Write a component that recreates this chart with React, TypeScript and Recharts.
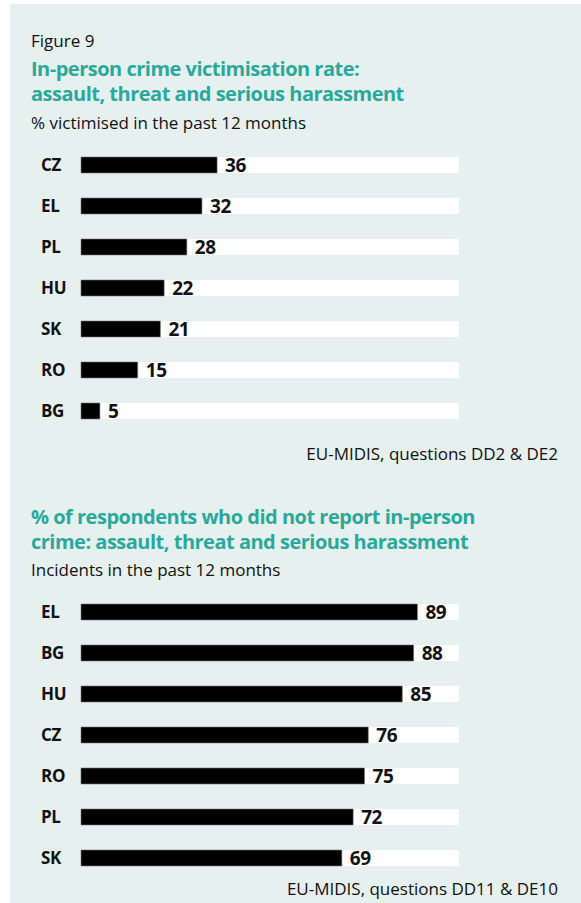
import { BarChart, Bar, XAxis, YAxis, LabelList } from 'recharts';

// Top panel: victimisation rate, %
const VICTIM_COUNTRIES = ['CZ', 'EL', 'PL', 'HU', 'SK', 'RO', 'BG'];
const VICTIM_VALUES = [36, 32, 28, 22, 21, 15, 5];

// Bottom panel: did not report, %
const NOREPORT_COUNTRIES = ['EL', 'BG', 'HU', 'CZ', 'RO', 'PL', 'SK'];
const NOREPORT_VALUES = [89, 88, 85, 76, 75, 72, 69];

const FONT = '"Open Sans", "Noto Sans", sans-serif';
const TEAL = '#2aa99b';
const BG = '#e6f0ef';

function CountryTick({ y, payload }: any) {
  return (
    <text x={41} y={y} dy={6} fontFamily={FONT} fontSize={17} fontWeight={700} fill="#111" letterSpacing={-0.3}>
      {payload.value}
    </text>
  );
}

function HBars({
  names,
  values,
  top,
}: {
  names: string[];
  values: number[];
  top: number;
}) {
  const data = names.map((name, i) => ({ name, value: values[i] }));
  return (
    <div style={{ position: 'absolute', left: 0, top }}>
      <BarChart
        width={581}
        height={287}
        data={data}
        layout="vertical"
        margin={{ top: 0, right: 122, bottom: 0, left: 0 }}
        barCategoryGap={0}
      >
        <XAxis type="number" domain={[0, 100]} hide />
        <YAxis
          type="category"
          dataKey="name"
          width={81}
          axisLine={false}
          tickLine={false}
          tick={<CountryTick />}
        />
        <Bar
          dataKey="value"
          fill="#000"
          stroke="#777"
          strokeWidth={0.6}
          barSize={16}
          background={{ fill: '#fff' }}
          isAnimationActive={false}
        >
          <LabelList
            dataKey="value"
            position="right"
            offset={8}
            style={{ fontFamily: FONT, fontSize: 19, fontWeight: 700, fill: '#111', letterSpacing: -0.4 }}
          />
        </Bar>
      </BarChart>
    </div>
  );
}

const txt = (top: number, size: number, extra: any = {}) => ({
  position: 'absolute' as const,
  left: 31,
  top,
  fontFamily: FONT,
  fontSize: size,
  lineHeight: `${size + 4}px`,
  color: '#111',
  whiteSpace: 'nowrap' as const,
  ...extra,
});

const title = (top: number) => txt(top, 20, { color: TEAL, fontWeight: 700, lineHeight: '22px', letterSpacing: -0.5 });

export default function App() {
  return (
    <div style={{ position: 'absolute', left: 0, top: 0, width: 581, height: 903, overflow: 'hidden', background: '#fff' }}>
      <div style={{ position: 'absolute', left: 10, top: 4, right: 0, bottom: 0, background: BG }} />
      <div style={txt(30, 17)}>Figure 9</div>
      <div style={title(58)}>In-person crime victimisation rate:</div>
      <div style={title(83)}>assault, threat and serious harassment</div>
      <div style={txt(112, 17)}>% victimised in the past 12 months</div>
      <HBars names={VICTIM_COUNTRIES} values={VICTIM_VALUES} top={143.5} />
      <div style={txt(443, 17, { left: 'auto', right: 23 })}>EU-MIDIS, questions DD2 &amp; DE2</div>

      <div style={title(506)}>% of respondents who did not report in-person</div>
      <div style={title(531)}>crime: assault, threat and serious harassment</div>
      <div style={txt(559, 17)}>Incidents in the past 12 months</div>
      <HBars names={NOREPORT_COUNTRIES} values={NOREPORT_VALUES} top={590.5} />
      <div style={txt(878, 17, { left: 'auto', right: 23 })}>EU-MIDIS, questions DD11 &amp; DE10</div>
    </div>
  );
}
